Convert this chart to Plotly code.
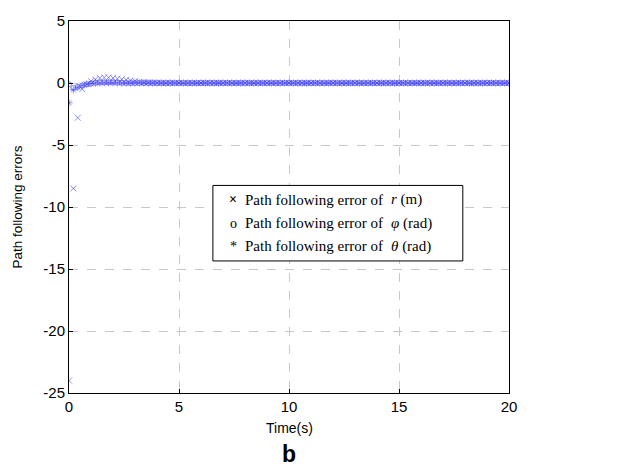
import plotly.graph_objects as go

# time samples (s), 0.2 s step
time_s = [round(i * 0.2, 1) for i in range(101)]

err_r = [-24.0, -8.5, -2.8, -0.5, -0.1, 0.15, 0.3, 0.4, 0.45, 0.45, 0.4, 0.35, 0.3, 0.25, 0.2,
         0.15, 0.1, 0.08, 0.05, 0.03, 0.02, 0.01, 0.0, 0.0, 0.0, 0.0, 0.0, 0.0, 0.0, 0.0,
         0.0, 0.0, 0.0, 0.0, 0.0, 0.0, 0.0, 0.0, 0.0, 0.0, 0.0, 0.0, 0.0, 0.0, 0.0,
         0.0, 0.0, 0.0, 0.0, 0.0, 0.0, 0.0, 0.0, 0.0, 0.0, 0.0, 0.0, 0.0, 0.0, 0.0,
         0.0, 0.0, 0.0, 0.0, 0.0, 0.0, 0.0, 0.0, 0.0, 0.0, 0.0, 0.0, 0.0, 0.0, 0.0,
         0.0, 0.0, 0.0, 0.0, 0.0, 0.0, 0.0, 0.0, 0.0, 0.0, 0.0, 0.0, 0.0, 0.0, 0.0,
         0.0, 0.0, 0.0, 0.0, 0.0, 0.0, 0.0, 0.0, 0.0, 0.0, 0.0]
err_phi = [-0.1, -0.4, -0.3, -0.2, -0.1, -0.05, 0.0, 0.05, 0.05, 0.05, 0.05, 0.03, 0.02, 0.0, 0.0,
           0.0, 0.0, 0.0, 0.0, 0.0, 0.0, 0.0, 0.0, 0.0, 0.0, 0.0, 0.0, 0.0, 0.0, 0.0,
           0.0, 0.0, 0.0, 0.0, 0.0, 0.0, 0.0, 0.0, 0.0, 0.0, 0.0, 0.0, 0.0, 0.0, 0.0,
           0.0, 0.0, 0.0, 0.0, 0.0, 0.0, 0.0, 0.0, 0.0, 0.0, 0.0, 0.0, 0.0, 0.0, 0.0,
           0.0, 0.0, 0.0, 0.0, 0.0, 0.0, 0.0, 0.0, 0.0, 0.0, 0.0, 0.0, 0.0, 0.0, 0.0,
           0.0, 0.0, 0.0, 0.0, 0.0, 0.0, 0.0, 0.0, 0.0, 0.0, 0.0, 0.0, 0.0, 0.0, 0.0,
           0.0, 0.0, 0.0, 0.0, 0.0, 0.0, 0.0, 0.0, 0.0, 0.0, 0.0]
err_theta = [-1.6, -0.55, -0.35, -0.2, -0.1, -0.05, 0.0, 0.0, 0.02, 0.02, 0.02, 0.01, 0.0, 0.0, 0.0,
             0.0, 0.0, 0.0, 0.0, 0.0, 0.0, 0.0, 0.0, 0.0, 0.0, 0.0, 0.0, 0.0, 0.0, 0.0,
             0.0, 0.0, 0.0, 0.0, 0.0, 0.0, 0.0, 0.0, 0.0, 0.0, 0.0, 0.0, 0.0, 0.0, 0.0,
             0.0, 0.0, 0.0, 0.0, 0.0, 0.0, 0.0, 0.0, 0.0, 0.0, 0.0, 0.0, 0.0, 0.0, 0.0,
             0.0, 0.0, 0.0, 0.0, 0.0, 0.0, 0.0, 0.0, 0.0, 0.0, 0.0, 0.0, 0.0, 0.0, 0.0,
             0.0, 0.0, 0.0, 0.0, 0.0, 0.0, 0.0, 0.0, 0.0, 0.0, 0.0, 0.0, 0.0, 0.0, 0.0,
             0.0, 0.0, 0.0, 0.0, 0.0, 0.0, 0.0, 0.0, 0.0, 0.0, 0.0]

legend_labels = ["Path following error of", "Path following error of", "Path following error of"]
legend_vars = ["<i>r</i> (m)", "<i>φ</i> (rad)", "<i>θ</i> (rad)"]
legend_glyphs = ["<b>×</b>", "o", "*"]
x_ticks = [0, 5, 10, 15, 20]
y_ticks = [5, 0, -5, -10, -15, -20, -25]
y_ticktext = ["5", "0", "-5", "-10", "-15", "-20", "-25"]

blue = "rgba(70,70,245,0.6)"
fig = go.Figure()
series = [(err_r, "x-thin-open", 6), (err_phi, "circle-open", 5), (err_theta, "asterisk-open", 6)]
for ys, sym, sz in series:
    fig.add_trace(go.Scatter(x=time_s, y=ys, mode="markers", showlegend=False,
                             marker=dict(symbol=sym, size=sz, color=blue,
                                         line=dict(color=blue, width=1))))

axis_common = dict(showline=True, linecolor="black", linewidth=1, mirror=True,
                   showgrid=True, gridcolor="#c8c8c8", griddash="dash", gridwidth=1,
                   zeroline=False, ticks="inside", ticklen=4, tickcolor="black",
                   tickfont=dict(family="Liberation Sans, Arial", size=15, color="black"))
fig.update_xaxes(range=[0, 20], tickvals=x_ticks, **axis_common)
fig.update_yaxes(range=[-25, 5], tickvals=y_ticks, ticktext=y_ticktext, **axis_common,
                 title=dict(text="Path following errors", standoff=17,
                            font=dict(family="Liberation Sans, Arial", size=13.5, color="black")))

fig.add_annotation(text="Time(s)", xref="paper", yref="paper", x=0.5, y=-0.095,
                   xanchor="center", yanchor="middle", showarrow=False,
                   font=dict(family="Liberation Sans, Arial", size=14, color="black"))

# legend box (paper coordinates)
fig.add_shape(type="rect", xref="paper", yref="paper", x0=0.327, x1=0.895, y0=0.355, y1=0.558,
              line=dict(color="black", width=1), fillcolor="white", layer="above")
row_y = [0.519, 0.456, 0.395]
serif = "Liberation Serif, Times New Roman"
for gl, lab, var, yy in zip(legend_glyphs, legend_labels, legend_vars, row_y):
    fig.add_annotation(text=gl, xref="paper", yref="paper", x=0.373, y=yy, xanchor="center",
                       yanchor="middle", showarrow=False,
                       font=dict(family=serif, size=14, color="black"))
    fig.add_annotation(text=lab, xref="paper", yref="paper", x=0.395, y=yy, xanchor="left",
                       yanchor="middle", showarrow=False,
                       font=dict(family=serif, size=15, color="black"))
    fig.add_annotation(text=var, xref="paper", yref="paper", x=0.727, y=yy, xanchor="left",
                       yanchor="middle", showarrow=False,
                       font=dict(family=serif, size=15, color="black"))

fig.add_annotation(text="<b>b</b>", xref="paper", yref="paper", x=0.5, y=-0.163,
                   xanchor="center", yanchor="middle", showarrow=False,
                   font=dict(family="Liberation Sans, Arial", size=23, color="black"))

fig.update_layout(
    width=624, height=470, margin=dict(l=69, r=115, t=13, b=77),
    plot_bgcolor="white", paper_bgcolor="white", showlegend=False,
)
fig.write_html("out.html")
